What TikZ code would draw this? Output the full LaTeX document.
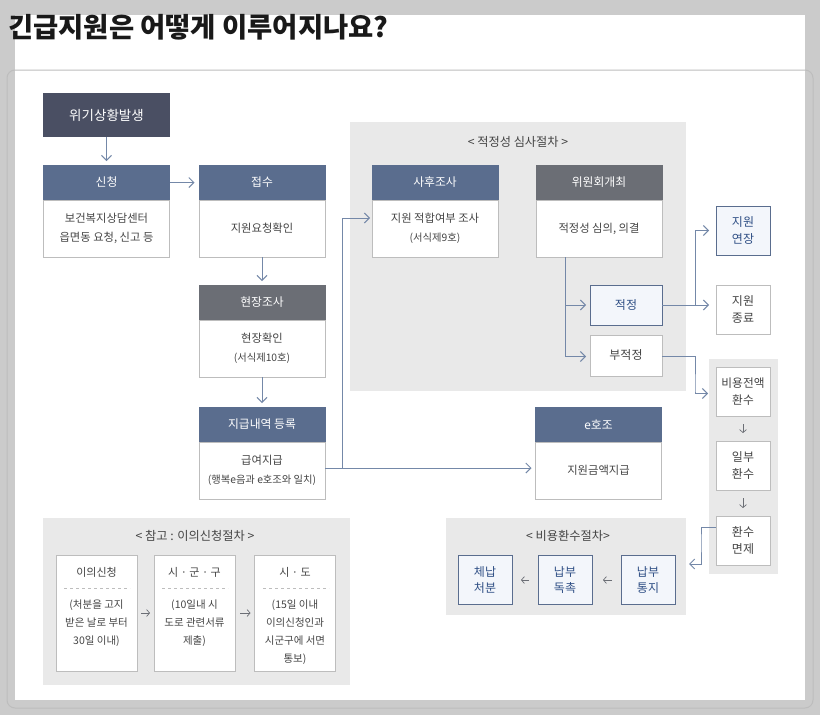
\documentclass[tikz,border=0pt]{standalone}
\usepackage{fontspec}
\usepackage{xcolor}
\setmainfont{Noto Sans CJK KR}
\usetikzlibrary{arrows.meta}
\definecolor{pagegray}{HTML}{CBCBCB}
\definecolor{panelgray}{HTML}{E9E9E9}
\definecolor{navy}{HTML}{4A4F63}
\definecolor{steel}{HTML}{5A6D8E}
\definecolor{slate}{HTML}{6B6E75}
\definecolor{boxline}{HTML}{BDBDBD}
\definecolor{paleblue}{HTML}{F3F6FB}
\definecolor{edgeblue}{HTML}{7488A8}
\definecolor{bluetext}{HTML}{2F4F85}
\definecolor{bodytext}{HTML}{444444}
\newcommand{\subtext}[1]{{\fontsize{10.3}{12}\selectfont #1}}

\begin{document}
\begin{tikzpicture}[x=1pt,y=-1pt]

    \tikzset{
      HeadStyle/.style = { rectangle, inner sep=0pt, outer sep=0pt, minimum width=127pt, minimum height=35pt,
			  text = white, font = \fontsize{11.8}{15}\selectfont },
      BodyStyle/.style = { rectangle, draw = boxline, fill = white, line width=1pt, inner sep=0pt, outer sep=0pt,
			  minimum width=126pt, minimum height=57pt, align = center, text = bodytext,
			  font = \fontsize{11.3}{19.5}\selectfont },
      SmallStyle/.style = { rectangle, draw = boxline, fill = white, line width=1pt, inner sep=0pt, outer sep=0pt,
			  minimum width=54pt, minimum height=49pt, align = center, text = bodytext,
			  font = \fontsize{12}{16.5}\selectfont },
      BlueStyle/.style = { SmallStyle, draw = steel, fill = paleblue, text = bluetext },
      StepStyle/.style = { rectangle, draw = boxline, fill = white, line width=1pt, inner sep=0pt, outer sep=0pt,
			  minimum width=81pt, minimum height=116pt },
      TextStyle/.style = { align = center, inner sep=0pt, text = bodytext, font = \fontsize{10.5}{18}\selectfont },
      PanelStyle/.style = { text = bodytext, inner sep=0pt, font = \fontsize{12.2}{14}\selectfont },
      EdgeStyle/.style = { draw = edgeblue, line width=1pt, -{Straight Barb[length=5pt,width=10pt]}, shorten >=4pt },
      MiniStyle/.style = { draw = slate, line width=.7pt, -{Straight Barb[length=3pt,width=7pt]} } }

      % page
      \fill[pagegray] (0,0) rectangle (820,715);
      \fill[white] (15,15) rectangle (805,700);
      \draw[boxline, line width=1pt, rounded corners=8pt] (7,70) rectangle (813,708);
      \node[anchor=west, inner sep=0pt, text=black!90, font=\fontsize{27.4}{30}\selectfont\bfseries] (title) at (8,27) {긴급지원은 어떻게 이루어지나요?};

      % gray panels
      \fill[panelgray] (350,122) rectangle (686,391);
      \fill[panelgray] (709,359) rectangle (778,574);
      \fill[panelgray] (446,518) rectangle (686,615);
      \fill[panelgray] (43,518) rectangle (350,685);
      \node[PanelStyle] (review) at (518,141.5) {< 적정성 심사절차 >};
      \node[PanelStyle] (refund) at (568,535.5) {< 비용환수절차>};
      \node[PanelStyle] (appeal) at (195,535.5) {< 참고 : 이의신청절차 >};

      % left column
      \node[HeadStyle, fill=navy, minimum height=44pt, font=\fontsize{13.5}{16}\selectfont] (crisis) at (106.5,115) {위기상황발생};
      \node[BodyStyle] (applyB) at (106.5,228.5) {보건복지상담센터\\읍면동 요청, 신고 등};
      \node[HeadStyle, fill=steel] (apply) at (106.5,182.5) {신청};
      \node[BodyStyle] (receiveB) at (262,228.5) {지원요청확인};
      \node[HeadStyle, fill=steel] (receive) at (262,182.5) {접수};
      \node[BodyStyle] (fieldB) at (262,348.5) {현장확인\\\subtext{(서식제10호)}};
      \node[HeadStyle, fill=slate] (field) at (262,302.5) {현장조사};
      \node[BodyStyle] (payB) at (262,470.5) {급여지급\\\subtext{(행복e음과 e호조와 일치)}};
      \node[HeadStyle, fill=steel] (pay) at (262,424.5) {지급내역 등록};

      % review
      \node[BodyStyle] (afterB) at (435,228.5) {지원 적합여부 조사\\\subtext{(서식제9호)}};
      \node[HeadStyle, fill=steel] (after) at (435,182.5) {사후조사};
      \node[BodyStyle] (boardB) at (599,228.5) {적정성 심의, 의결};
      \node[HeadStyle, fill=slate] (board) at (599,182.5) {위원회개최};
      \node[BlueStyle, minimum width=72pt, minimum height=40pt] (fit) at (626,305) {적정};
      \node[SmallStyle, minimum width=72pt, minimum height=41pt] (unfit) at (626,355.5) {부적정};
      \node[BodyStyle] (ehojoB) at (598.5,470.5) {지원금액지급};
      \node[HeadStyle, fill=steel] (ehojo) at (598.5,424.5) {e호조};

      % right column
      \node[BlueStyle] (extend) at (743,230.5) {지원\\연장};
      \node[SmallStyle] (finish) at (743,309.5) {지원\\종료};
      \node[SmallStyle, font=\fontsize{11.7}{16.5}\selectfont] (whole) at (743,391.5) {비용전액\\환수};
      \node[SmallStyle] (part) at (743,465.5) {일부\\환수};
      \node[SmallStyle] (waive) at (743,540.5) {환수\\면제};

      % refund steps
      \node[BlueStyle] (notice) at (648,580) {납부\\통지};
      \node[BlueStyle] (urge) at (565,580) {납부\\독촉};
      \node[BlueStyle] (arrears) at (485,580) {체납\\처분};

      % appeal steps
      \node[StepStyle] (stepA) at (96.5,613) {};
      \node[StepStyle] (stepB) at (194.5,613) {};
      \node[StepStyle] (stepC) at (295,613) {};
      \node[TextStyle, font=\fontsize{11}{13}\selectfont] (stepAh) at (96.5,572.5) {이의신청};
      \node[TextStyle, font=\fontsize{11}{13}\selectfont] (stepBh) at (194.5,572.5) {시 · 군 · 구};
      \node[TextStyle, font=\fontsize{11}{13}\selectfont] (stepCh) at (295,572.5) {시 · 도};
      \draw[boxline, dashed] (64,588) -- (130,588);
      \draw[boxline, dashed] (162,588) -- (228,588);
      \draw[boxline, dashed] (263,588) -- (329,588);
      \node[TextStyle, anchor=north] (stepAt) at (96.5,600) {(처분을 고지\\받은 날로 부터\\30일 이내)};
      \node[TextStyle, anchor=north] (stepBt) at (194.5,600) {(10일내 시\\도로 관련서류\\제출)};
      \node[TextStyle, anchor=north] (stepCt) at (295,600) {(15일 이내\\이의신청인과\\시군구에 서면\\통보)};

      % edges
      \draw[EdgeStyle] (crisis) -- (apply);
      \draw[EdgeStyle] (apply) -- (receive);
      \draw[EdgeStyle] (receiveB) -- (field);
      \draw[EdgeStyle] (fieldB) -- (pay);
      \draw[EdgeStyle] ([yshift=2.5pt]payB.east) -- ([yshift=2.5pt]ehojoB.west);
      \draw[EdgeStyle, shorten >=2pt] ([yshift=2.5pt]payB.east) -| ([xshift=-30pt,yshift=10.5pt]afterB.west) -- ([yshift=10.5pt]afterB.west);
      \draw[EdgeStyle] ([xshift=-34pt]boardB.south) |- (fit.west);
      \draw[EdgeStyle] ([xshift=-34pt]boardB.south) |- ([yshift=-1pt]unfit.west);
      \draw[EdgeStyle, shorten >=7pt] (fit.east) -- (fit.east -| finish.west);
      \draw[EdgeStyle, shorten >=7pt] ([xshift=33pt]fit.east) |- (extend.west);
      \draw[EdgeStyle, shorten >=8pt] ([yshift=-1pt]unfit.east) -| ([xshift=-21pt]whole.west) |- ([yshift=-2pt]whole.west);
      \draw[EdgeStyle, shorten >=14pt] ([yshift=13.5pt]waive.west) -| ([xshift=-15pt]waive.west) |- ([yshift=16pt]notice.east);
      \draw[MiniStyle] ([yshift=-8pt]whole.south) -- ([yshift=8pt]part.north);
      \draw[MiniStyle] ([yshift=-8pt]part.south) -- ([yshift=8pt]waive.north);
      \draw[MiniStyle] ([xshift=-9pt]notice.west) -- ([xshift=11pt]urge.east);
      \draw[MiniStyle] ([xshift=-9pt]urge.west) -- ([xshift=9pt]arrears.east);
      \draw[MiniStyle] ([xshift=4pt]stepA.east) -- ([xshift=-4pt]stepB.west);
      \draw[MiniStyle] ([xshift=5pt]stepB.east) -- ([xshift=-4pt]stepC.west);
    \end{tikzpicture}
\end{document}
